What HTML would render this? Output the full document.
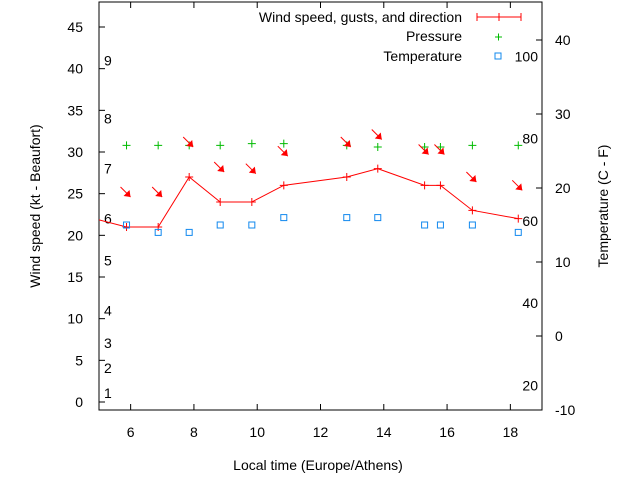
<!DOCTYPE html>
<html><head><meta charset="utf-8"><style>
body{margin:0;background:#fff}
svg{display:block;font-family:"Liberation Sans",sans-serif}
</style></head><body>
<svg id="c" width="640" height="480" viewBox="0 0 640 480"></svg>
<script>
const hours=[4.85,5.87,6.87,7.85,8.83,9.83,10.84,12.83,13.81,15.29,15.79,16.80,18.25];
const wind=[22,21,21,27,24,24,26,27,28,26,26,23,22];
const gust=[null,24.6,24.6,30.6,27.6,27.4,29.5,30.6,31.5,29.7,29.7,26.4,25.4];
const pressure=[null,30.8,30.8,30.8,30.8,31.0,31.0,30.8,30.6,30.6,30.6,30.8,30.8];
const temp=[null,15,14,14,15,15,16,16,16,15,15,15,14];
const xTicks=[6,8,10,12,14,16,18];
const yTicks=[0,5,10,15,20,25,30,35,40,45];
const y2Ticks=[-10,0,10,20,30,40];
const bft=[["1",1.1],["2",4.1],["3",7.1],["4",11],["5",17],["6",22],["7",28],["8",34],["9",41]];
const fLabels=[20,40,60,80,100];

const L=99,R=542,T=2,B=410;
const X=h=>L+(h-5)*(R-L)/14;
const Y=v=>402-v*375/45;
const Y2=t=>336-t*7.4;
const NS="http://www.w3.org/2000/svg";
const svg=document.getElementById('c');
function el(tag,at,txt){const e=document.createElementNS(NS,tag);for(const k in at)e.setAttribute(k,at[k]);if(txt!=null)e.textContent=txt;svg.appendChild(e);return e;}

const defs=el('defs',{});
const cp=document.createElementNS(NS,'clipPath');cp.setAttribute('id','pc');
const cr=document.createElementNS(NS,'rect');cr.setAttribute('x',L);cr.setAttribute('y',T);cr.setAttribute('width',R-L);cr.setAttribute('height',B-T);
cp.appendChild(cr);defs.appendChild(cp);

let e=el('rect',{x:L,y:T,width:R-L,height:B-T,fill:'none',stroke:'#000','stroke-width':1});



xTicks.forEach(h=>{
  el('line',{x1:X(h),x2:X(h),y1:B,y2:B-6,stroke:'#000'});
  el('line',{x1:X(h),x2:X(h),y1:T,y2:T+6,stroke:'#000'});
  const t=el('text',{x:X(h),y:437,'font-size':14,'text-anchor':'middle'},h);
  
  
});
yTicks.forEach(v=>{
  el('line',{x1:L,x2:L+6,y1:Y(v),y2:Y(v),stroke:'#000'});
  const t=el('text',{x:83,y:Y(v)+5,'font-size':14,'text-anchor':'end'},v);
  
  
});
y2Ticks.forEach(v=>{
  el('line',{x1:R,x2:R-6,y1:Y2(v),y2:Y2(v),stroke:'#000'});
  const t=el('text',{x:555,y:Y2(v)+5,'font-size':14},v);
  
  
});
bft.forEach(([s,v])=>{
  const t=el('text',{x:104,y:Y(v)+5,'font-size':14},s);
  
  
});
fLabels.forEach(f=>{
  const t=el('text',{x:538,y:Y2((f-32)*5/9)+5,'font-size':14,'text-anchor':'end'},f);
  
  
});

const g=el('g',{'clip-path':'url(#pc)'});
function add(tag,at){const n=document.createElementNS(NS,tag);for(const k in at)n.setAttribute(k,at[k]);g.appendChild(n);return n;}
const wl=add('polyline',{points:hours.map((h,i)=>X(h)+','+Y(wind[i])).join(' '),fill:'none',stroke:'#f00','stroke-width':1});


hours.forEach((h,i)=>{
  const x=X(h),y=Y(wind[i]);
  const p=add('path',{d:`M${x-4},${y}h8M${x},${y-4}v8`,stroke:'#f00'});
  
  
  if(pressure[i]!=null){
    const py=Y(pressure[i]);
    const q=add('path',{d:`M${x-4},${py}h8M${x},${py-4}v8`,stroke:'#0b0'});
    
    
  }
  if(temp[i]!=null){
    const ty=Y2(temp[i]);
    const s=add('rect',{x:x-3,y:ty-3,width:6,height:6,fill:'none',stroke:'#18e'});
    
    
  }
  if(gust[i]!=null){
    const gx=x+4,gy=Y(gust[i]);
    const a=add('path',{d:`M${gx-10},${gy-10}L${gx},${gy}`,stroke:'#f00'});
    
    
    const hd=add('path',{d:`M${gx},${gy}L${gx-7},${gy-1}L${gx-1},${gy-7}Z`,fill:'#f00'});
    
    
  }
});

let t=el('text',{x:462,y:22,'font-size':14,'text-anchor':'end'},'Wind speed, gusts, and direction');

el('path',{d:'M477,17h44M477,13v8M521,13v8M499,13v8',stroke:'#f00'});
t=el('text',{x:462,y:41,'font-size':14,'text-anchor':'end'},'Pressure');

el('path',{d:'M495,37h7M498.5,33.5v7',stroke:'#0b0'});
t=el('text',{x:462,y:61,'font-size':14,'text-anchor':'end'},'Temperature');

el('rect',{x:495,y:53,width:6,height:6,fill:'none',stroke:'#18e'});

t=el('text',{x:318,y:470,'font-size':14,'text-anchor':'middle'},'Local time (Europe/Athens)');

t=el('text',{x:0,y:0,'font-size':14,'text-anchor':'middle',transform:'translate(40,206) rotate(-90)'},'Wind speed (kt - Beaufort)');

t=el('text',{x:0,y:0,'font-size':14,'text-anchor':'middle',transform:'translate(608,206) rotate(-90)'},'Temperature (C - F)');

</script>
</body></html>
